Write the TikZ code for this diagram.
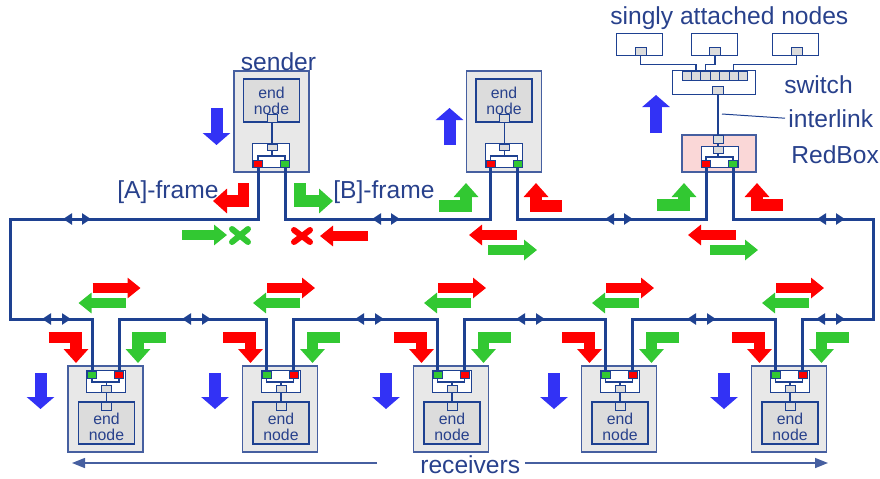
\documentclass[tikz,border=0pt]{standalone}
\usepackage{fontspec}
\setmainfont{Liberation Sans}
\usetikzlibrary{arrows.meta}
\definecolor{ringblue}{RGB}{30,65,145}
\definecolor{boxblue}{RGB}{70,95,160}
\definecolor{txtblue}{RGB}{40,65,140}
\definecolor{blkblue}{RGB}{50,50,245}
\definecolor{frred}{RGB}{255,0,0}
\definecolor{frgreen}{RGB}{50,200,50}
\definecolor{boxgray}{RGB}{232,232,232}
\definecolor{endgray}{RGB}{220,220,220}
\definecolor{redboxpink}{RGB}{250,215,215}
\begin{document}
\begin{tikzpicture}[x=0.2mm, y=-0.2mm,
    lbl/.style={text=txtblue, font=\fontsize{14}{16}\selectfont, inner sep=0pt},
    station/.style={draw=boxblue, fill=boxgray, line width=0.25mm, inner sep=0pt},
    endbox/.style={draw=ringblue, fill=endgray, line width=0.3mm, inner sep=0pt, minimum width=11.2mm,
        text=txtblue, font=\fontsize{9}{9.2}\selectfont, align=center},
    lre/.style={draw=ringblue, fill=white, line width=0.2mm, inner sep=0pt},
    port/.style={draw=ringblue, fill=endgray, line width=0.2mm, inner sep=0pt, minimum width=2mm, minimum height=1.6mm},
    pin/.style={port, minimum width=1.8mm, minimum height=1.4mm},
    link/.style={draw=ringblue, line width=0.25mm},
    ring/.style={draw=ringblue, line width=0.6mm, line join=miter},
    ringmark/.style={ringblue, line width=0.6mm, {Triangle[width=2.2mm,length=1.8mm]}-{Triangle[width=2.2mm,length=1.8mm]}},
    frarrow/.style={line width=2mm, -{Triangle[width=4mm,length=2.6mm]}},
    bendarrow/.style={line width=2.3mm, line join=miter, -{Triangle[width=4.8mm,length=2.8mm]}},
    bluearrow/.style={blkblue, line width=2.4mm, -{Triangle[width=5.4mm,length=2.4mm]}},
    xmark/.style={line width=1.2mm, line cap=round},
    thinarrow/.style={boxblue, line width=0.3mm, -{Triangle[width=2mm,length=2.6mm]}}]
    \useasboundingbox (0,0) rectangle (880,478);
    % ring corners
    \coordinate (tl) at (10,219);
    \coordinate (bl) at (10,319);
    \coordinate (tr) at (873,219);
    \coordinate (br) at (873,319);
    % sender and the other upper node
    \foreach \c/\nm in {271.5/s, 504/u} {
        \node[station, minimum width=15mm, minimum height=20.2mm] (\nm) at (\c,121.5) {};
        \node[endbox, minimum height=8.6mm] (\nm-end) at (\c,100.5) {end\\node};
        \node[port] (\nm-e) at (\c+0.5,118) {};
        \node[lre, minimum width=7.4mm, minimum height=4.8mm] (\nm-lre) at (\c-0.5,155) {};
        \node[port, minimum height=1.2mm] (\nm-i) at (\c+0.5,147) {};
        \draw[link] (\nm-e.south) -- (\nm-i.north);
        \draw[link] (\nm-i.south) -- (\c+0.5,156);
        \node[pin, fill=frred] (\nm-l) at (\c-13.5,163.5) {};
        \node[pin, fill=frgreen] (\nm-r) at (\c+13.5,163.5) {};
        \draw[link] (\nm-l.north) |- (\c,156) -| (\nm-r.north);
    }
    % RedBox
    \node[station, fill=redboxpink, minimum width=14.8mm, minimum height=7.4mm] (x) at (719,153.5) {};
    \node[port] (x-t) at (718,139) {};
    \node[lre, minimum width=7.4mm, minimum height=4.2mm] (x-lre) at (720,156.5) {};
    \node[port, minimum height=1.4mm] (x-i) at (718,149.5) {};
    \draw[link] (x-t.south) -- (x-i.north);
    \draw[link] (x-i.south) -- (718,157);
    \node[pin, fill=frred] (x-l) at (706,164) {};
    \node[pin, fill=frgreen] (x-r) at (733,164) {};
    \draw[link] (x-l.north) |- (719.5,157) -| (x-r.north);
    % switch and singly attached nodes
    \node[lre, minimum width=16.6mm, minimum height=4.8mm] (sw) at (713.5,82) {};
    \foreach \i in {1,...,7}
        \node[port, minimum width=1.88mm, minimum height=1.8mm] (sw-\i) at ({677.3+9.4*\i},75.5) {};
    \node[port, minimum width=2.2mm] (sw-d) at (718,90) {};
    \foreach \i/\ax in {1/639.5, 2/714, 3/795.5} {
        \node[lre, minimum width=9.2mm, minimum height=4.4mm] (a\i) at (\ax,44) {};
        \node[port, minimum width=2.2mm] (a\i-p) at (\ax+1,51) {};
    }
    \draw[link] (a1-p.south) -- ++(0,9) -| (sw-2.north);
    \draw[link] (a2-p.south) -- ++(0,9) -| (sw-3.north);
    \draw[link] (a3-p.south) -- ++(0,9) -| (sw-6.north);
    \draw[link] (sw-d.south) -- (x-t.north);
    % receivers
    \foreach \c/\n in {105.5/1, 280/2, 451/3, 619/4, 789/5} {
        \node[station, minimum width=15mm, minimum height=17.2mm] (r\n) at (\c,409) {};
        \node[lre, minimum width=7.8mm, minimum height=4.4mm] (r\n-lre) at (\c+0.5,381) {};
        \node[pin, fill=frgreen] (r\n-l) at (\c-13.5,374.5) {};
        \node[pin, fill=frred] (r\n-r) at (\c+13.5,374.5) {};
        \draw[link] (r\n-l.south) |- (\c+1,382) -| (r\n-r.south);
        \node[port, minimum height=1.4mm] (r\n-i) at (\c+1,388.5) {};
        \draw[link] (\c+1,382) -- (r\n-i.north);
        \node[endbox, minimum height=8.4mm] (r\n-end) at (\c+1,423) {\rule{0pt}{11pt}end\\node};
        \node[port] (r\n-e) at (\c+1,406) {};
        \draw[link] (r\n-i.south) -- (r\n-e.north);
        \draw[frarrow, frred] (\c-13,288) -- (\c+35,288);
        \draw[frarrow, frgreen] (\c+20,303) -- (\c-27,303);
        \draw[bendarrow, frred] (\c-57,337.5) -- (\c-29.5,337.5) -- (\c-29.5,363);
        \draw[bendarrow, frgreen] (\c+60,337.5) -- (\c+32.5,337.5) -- (\c+32.5,363);
        \draw[bluearrow] (\c-65,373) -- (\c-65,409);
    }
    % ring
    \draw[ring] (s-l.south) |- (tl) -- (bl) -| (r1-l.north);
    \draw[ring] (s-r.south) -- (s-r.south |- tl) -| (u-l.south);
    \draw[ring] (u-r.south) -- (u-r.south |- tl) -| (x-l.south);
    \draw[ring] (x-r.south) |- (tr) -- (br) -| (r5-r.north);
    \foreach \i/\j in {1/2, 2/3, 3/4, 4/5}
        \draw[ring] (r\i-r.north) -- (r\i-r.north |- bl) -| (r\j-l.north);
    \foreach \a in {63, 372, 605, 817}
        \draw[ringmark] (\a,219) -- (\a+28,219);
    \foreach \a in {42, 182, 355, 516, 687, 816}
        \draw[ringmark] (\a,319) -- (\a+29,319);
    % frames at the sender
    \draw[bendarrow, frred] (243.5,183) -- (243.5,201) -- (213,201);
    \draw[bendarrow, frgreen] (300,183) -- (300,201) -- (333,201);
    \draw[frarrow, frgreen] (182,235) -- (227,235);
    \draw[xmark, frgreen] (232,229) -- (248,242) (232,242) -- (248,229);
    \draw[xmark, frred] (294,230) -- (310,242) (294,242) -- (310,230);
    \draw[frarrow, frred] (368,236) -- (320,236);
    % frames at the upper node and the RedBox
    \draw[bendarrow, frgreen] (439,206) -- (466,206) -- (466,183);
    \draw[bendarrow, frred] (562,206) -- (536,206) -- (536,183);
    \draw[frarrow, frred] (517,235) -- (469,235);
    \draw[frarrow, frgreen] (488,250) -- (537,250);
    \draw[bendarrow, frgreen] (657,205) -- (684,205) -- (684,183);
    \draw[bendarrow, frred] (783,205) -- (757,205) -- (757,183);
    \draw[frarrow, frred] (736,235) -- (688,235);
    \draw[frarrow, frgreen] (710,250) -- (758,250);
    \draw[bluearrow] (216.5,108) -- (216.5,145);
    \draw[bluearrow] (449.5,145) -- (449.5,108);
    \draw[bluearrow] (656,133) -- (656,95);
    % labels
    \node[lbl, anchor=base] (lsnd) at (278.5,70) {sender};
    \node[lbl, anchor=base west] (lfa) at (117,198) {[A]-frame};
    \node[lbl, anchor=base west] (lfb) at (333,198) {[B]-frame};
    \node[lbl, anchor=base west] (lsan) at (610,24) {singly attached nodes};
    \node[lbl, anchor=base west] (lsw) at (784,93) {switch};
    \node[lbl, anchor=base west] (lil) at (788,127) {interlink};
    \node[lbl, anchor=base west] (lrb) at (791,163) {RedBox};
    \node[lbl, anchor=base west] (lrc) at (420,473) {receivers};
    \coordinate (ilk) at (722,114);
    \draw[link, line width=0.2mm] (ilk) -- ([xshift=-0.6mm]lil.west);
    \coordinate (rcl1) at (377,463);
    \coordinate (rcl2) at (72,463);
    \coordinate (rcr1) at (525,463);
    \coordinate (rcr2) at (828,463);
    \draw[thinarrow] (rcl1) -- (rcl2);
    \draw[thinarrow] (rcr1) -- (rcr2);
\end{tikzpicture}
\end{document}
